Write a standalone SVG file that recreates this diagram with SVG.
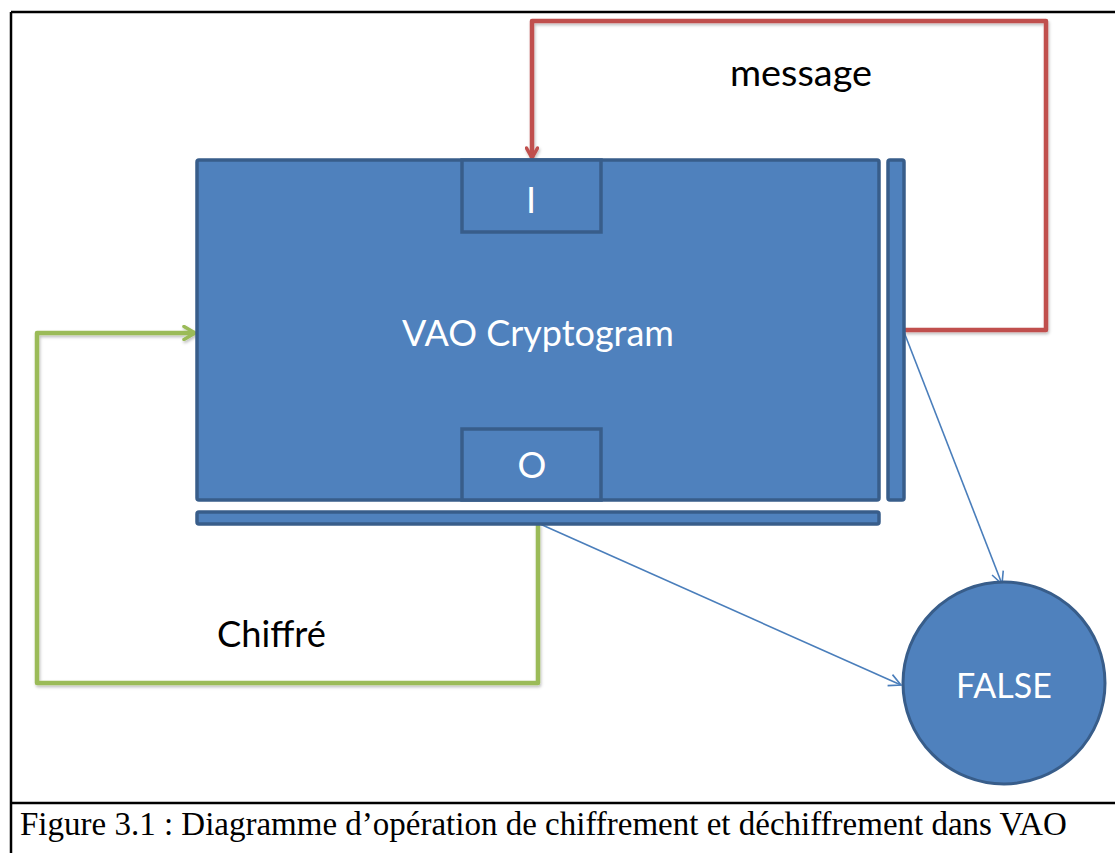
<svg xmlns="http://www.w3.org/2000/svg" width="1115" height="853" viewBox="0 0 1115 853">
<defs>
<style>
.box{fill:#4F81BD;stroke:#385D8A;stroke-width:3.5}
.wt{fill:#FFFFFF;font-family:Lato,"Open Sans",sans-serif;text-anchor:middle}
.bk{fill:#000000;font-family:Lato,"Open Sans",sans-serif}
.red{fill:none;stroke:#C0504D;stroke-width:4.5;stroke-linejoin:round}
.grn{fill:none;stroke:#9BBB59;stroke-width:4.5;stroke-linejoin:round}
.blu{fill:none;stroke:#4A7EBB;stroke-width:1.6}
</style>
<filter id="sh" x="-5%" y="-5%" width="110%" height="110%">
<feDropShadow dx="1" dy="2" stdDeviation="1.5" flood-color="#000000" flood-opacity="0.25"/>
</filter>
<marker id="aRed" viewBox="0 0 14 14" refX="12" refY="7" markerWidth="14" markerHeight="14" markerUnits="userSpaceOnUse" orient="auto">
<path d="M2,1.5 L12,7 L2,12.5" fill="none" stroke="#C0504D" stroke-width="3.5" stroke-linecap="round" stroke-linejoin="round"/>
</marker>
<marker id="aGrn" viewBox="0 0 16 16" refX="14" refY="8" markerWidth="16" markerHeight="16" markerUnits="userSpaceOnUse" orient="auto">
<path d="M3,1.5 L14,8 L3,14.5" fill="none" stroke="#9BBB59" stroke-width="3.5" stroke-linecap="round" stroke-linejoin="round"/>
</marker>
<marker id="aBlu" viewBox="0 0 14 14" refX="13" refY="7" markerWidth="14" markerHeight="14" markerUnits="userSpaceOnUse" orient="auto">
<path d="M1,1 L13,7 L1,13" fill="none" stroke="#4A7EBB" stroke-width="1.6"/>
</marker>
</defs>
<rect width="1115" height="853" fill="#FFFFFF"/>
<g id="frame">
<path d="M11,12 H1115 M11,12 V853 M11,803 H1115" fill="none" stroke="#000000" stroke-width="2.5"/>
</g>
<g id="connectors">
<path class="red" d="M904,330 H1046 V21 H532 V158" marker-end="url(#aRed)" filter="url(#sh)"/>
<path class="grn" d="M538,524 V683 H37 V333 H195" marker-end="url(#aGrn)" filter="url(#sh)"/>
<path class="blu" d="M904,332 L1002,584" marker-end="url(#aBlu)"/>
<path class="blu" d="M540,524 L901,685" marker-end="url(#aBlu)"/>
</g>
<g id="vao">
<rect class="box" x="197" y="160" width="682" height="340" rx="2"/>
<text class="wt" x="538" y="346" font-size="36">VAO Cryptogram</text>
</g>
<g id="input">
<rect class="box" x="462" y="160" width="139" height="72"/>
<text class="wt" x="531" y="213" font-size="36">I</text>
</g>
<g id="output">
<rect class="box" x="462" y="429" width="139" height="71"/>
<text class="wt" x="532" y="478" font-size="36">O</text>
</g>
<g id="bar-bottom">
<rect class="box" x="197" y="512" width="682" height="12" rx="2"/>
</g>
<g id="bar-right">
<rect class="box" x="888" y="160" width="16" height="340" rx="2"/>
</g>
<g id="false">
<circle cx="1004" cy="683" r="101" fill="#4F81BD" stroke="#385D8A" stroke-width="3"/>
<text class="wt" x="1004" y="698" font-size="34">FALSE</text>
</g>
<g id="labels">
<text class="bk" x="730" y="86" font-size="37" textLength="142" lengthAdjust="spacingAndGlyphs">message</text>
<text class="bk" x="217" y="647" font-size="37" textLength="109" lengthAdjust="spacingAndGlyphs">Chiffré</text>
<text x="20" y="835" font-size="33" font-family="'Liberation Serif','Times New Roman',serif" fill="#000000">Figure 3.1 : Diagramme d’opération de chiffrement et déchiffrement dans VAO</text>
</g>
</svg>
